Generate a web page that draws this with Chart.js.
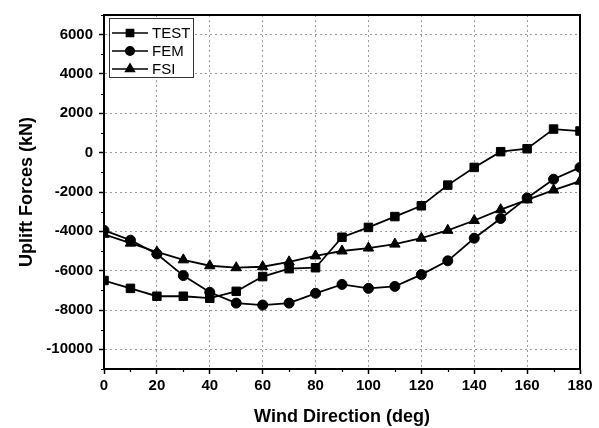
<!DOCTYPE html>
<html>
<head>
<meta charset="utf-8">
<script src="https://cdn.jsdelivr.net/npm/chart.js@4.4.1/dist/chart.umd.min.js"></script>
<style>
  html, body { margin: 0; padding: 0; background: #fff; }
  #wrap { width: 599px; height: 428px; }
</style>
</head>
<body>
<div id="wrap"><canvas id="chart" width="599" height="428"></canvas></div>
<script>
// wind direction (deg) and uplift forces (kN)
const angles = [0, 10, 20, 30, 40, 50, 60, 70, 80, 90, 100, 110, 120, 130, 140, 150, 160, 170, 180];
const testForces = [-6500, -6900, -7300, -7300, -7400, -7050, -6300, -5900, -5850, -4300, -3800, -3250, -2700, -1650, -750, 50, 200, 1200, 1100];
const femForces = [-3950, -4450, -5150, -6250, -7100, -7650, -7750, -7650, -7150, -6700, -6900, -6800, -6200, -5500, -4350, -3350, -2300, -1350, -750];
const fsiForces = [-4150, -4600, -5050, -5450, -5750, -5850, -5800, -5550, -5250, -5000, -4850, -4650, -4350, -3950, -3450, -2900, -2400, -1900, -1450];

const seriesNames = ['TEST', 'FEM', 'FSI'];
const xTicks = [0, 20, 40, 60, 80, 100, 120, 140, 160, 180];
const xMinorTicks = [10, 30, 50, 70, 90, 110, 130, 150, 170];
const yTicks = [-10000, -8000, -6000, -4000, -2000, 0, 2000, 4000, 6000];
const yMinorTicks = [-11000, -9000, -7000, -5000, -3000, -1000, 1000, 3000, 5000, 7000];

const toPoints = vals => vals.map((v, i) => ({ x: angles[i], y: v }));

const tickFont = { family: 'Liberation Sans, Arial', size: 15, weight: 'bold' };
const titleFont = { family: 'Liberation Sans, Arial', size: 18, weight: 'bold' };

// frame, minor ticks and the boxed legend
const extras = {
    id: 'extras',
    afterDraw(chart) {
        const ctx = chart.ctx;
        const a = chart.chartArea;
        const xs = chart.scales.x, ys = chart.scales.y;
        ctx.save();
        ctx.strokeStyle = '#000';
        ctx.lineWidth = 2;
        ctx.strokeRect(a.left, a.top, a.right - a.left, a.bottom - a.top);

        ctx.lineWidth = 1.2;
        ctx.beginPath();
        xMinorTicks.forEach(v => {
            const px = Math.round(xs.getPixelForValue(v)) + 0.5;
            ctx.moveTo(px, a.bottom);
            ctx.lineTo(px, a.bottom + 3);
        });
        yMinorTicks.forEach(v => {
            const py = Math.round(ys.getPixelForValue(v)) + 0.5;
            ctx.moveTo(a.left, py);
            ctx.lineTo(a.left - 3, py);
        });
        ctx.stroke();

        // legend
        const lx = 109, ly = 18, lw = 84, lh = 59;
        ctx.fillStyle = '#fff';
        ctx.fillRect(lx, ly, lw, lh);
        ctx.lineWidth = 1;
        ctx.strokeStyle = '#333';
        ctx.strokeRect(lx + 0.5, ly + 0.5, lw, lh);
        chart.data.datasets.forEach((ds, i) => {
            const cy = ly + 15 + i * 18;
            ctx.strokeStyle = '#000';
            ctx.lineWidth = 1.5;
            ctx.beginPath();
            ctx.moveTo(lx + 3, cy);
            ctx.lineTo(lx + 39, cy);
            ctx.stroke();
            ctx.fillStyle = '#000';
            Chart.helpers.drawPoint(ctx, {
                pointStyle: ds.pointStyle,
                radius: ds.pointRadius * 0.85,
                rotation: 0,
                borderWidth: 1
            }, lx + 21, cy);
            ctx.font = '15px Liberation Sans, Arial';
            ctx.textBaseline = 'middle';
            ctx.textAlign = 'left';
            ctx.fillText(ds.label, lx + 43, cy + 1);
        });
        ctx.restore();
    }
};

function makeDataset(label, values, style, radius) {
    return {
        label: label,
        data: toPoints(values),
        borderColor: '#000',
        backgroundColor: '#000',
        borderWidth: 1.8,
        pointStyle: style,
        pointRadius: radius,
        pointBorderWidth: 1,
        pointBackgroundColor: '#000',
        pointBorderColor: '#000',
        tension: 0
    };
}

new Chart(document.getElementById('chart'), {
    type: 'line',
    data: {
        datasets: [
            makeDataset(seriesNames[0], testForces, 'rect', 6),
            makeDataset(seriesNames[1], femForces, 'circle', 5),
            makeDataset(seriesNames[2], fsiForces, 'triangle', 6)
        ]
    },
    options: {
        responsive: false,
        animation: false,
        events: [],
        layout: { padding: { top: 11, right: 19, left: 16, bottom: 0 } },
        plugins: {
            legend: { display: false },
            tooltip: { enabled: false }
        },
        scales: {
            x: {
                type: 'linear',
                min: 0,
                max: 180,
                afterBuildTicks: s => { s.ticks = xTicks.map(v => ({ value: v })); },
                afterFit: s => { s.height = 59; },
                grid: { color: '#9a9a9a', lineWidth: 1, tickColor: '#000', tickLength: 5, tickWidth: 1.5 },
                border: { display: true, color: '#000', width: 2, dash: [2, 3] },
                ticks: { color: '#000', font: tickFont, padding: 3, maxRotation: 0, callback: v => String(v) },
                title: { display: true, text: 'Wind Direction (deg)', color: '#000', font: titleFont, padding: { top: 6, bottom: 0 } }
            },
            y: {
                type: 'linear',
                min: -11000,
                max: 7000,
                afterBuildTicks: s => { s.ticks = yTicks.map(v => ({ value: v })); },
                afterFit: s => { s.width = 88; },
                grid: { color: '#9a9a9a', lineWidth: 1, tickColor: '#000', tickLength: 5, tickWidth: 1.5 },
                border: { display: true, color: '#000', width: 2, dash: [2, 3] },
                ticks: { color: '#000', font: tickFont, padding: 6, callback: v => String(v) },
                title: { display: true, text: 'Uplift Forces (kN)', color: '#000', font: titleFont, padding: { top: 0, bottom: 6 } }
            }
        }
    },
    plugins: [extras]
});
</script>
</body>
</html>
